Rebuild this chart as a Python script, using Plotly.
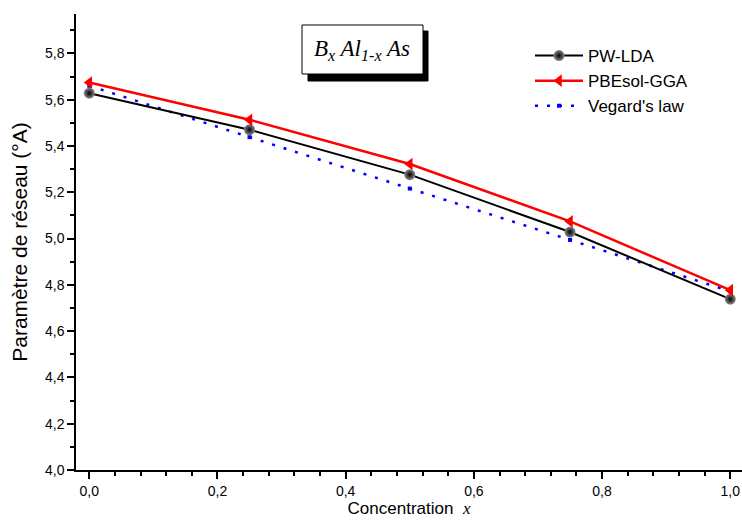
import plotly.graph_objects as go

# ---- data ----
conc = [0.0, 0.25, 0.5, 0.75, 1.0]
pw_lda = [5.628, 5.470, 5.276, 5.028, 4.738]
pbesol_gga = [5.674, 5.513, 5.322, 5.074, 4.777]
vegard = [5.660, 5.438, 5.216, 4.994, 4.772]

x_ticks = [0.0, 0.2, 0.4, 0.6, 0.8, 1.0]
y_ticks = [4.0, 4.2, 4.4, 4.6, 4.8, 5.0, 5.2, 5.4, 5.6, 5.8]

W, H = 742, 522
ML, MR, MT, MB = 76, 0, 14, 52
XR = [-0.0207, 1.0183]
YR = [4.0, 5.970]

FONT = "Arial, Liberation Sans, sans-serif"

fig = go.Figure()

fig.add_trace(go.Scatter(
    x=conc, y=vegard, name="Vegard's law", mode="lines+markers",
    line=dict(color="#0000ff", width=2.5, dash="3px,9px"),
    marker=dict(symbol="square", size=4, color="#0000ff"),
))
fig.add_trace(go.Scatter(
    x=conc, y=pw_lda, name="PW-LDA", mode="lines+markers",
    line=dict(color="black", width=2),
    marker=dict(symbol="circle", size=11, color="#8a8a8a",
                gradient=dict(type="radial", color="black"),
                line=dict(width=0)),
))
fig.add_trace(go.Scatter(
    x=conc, y=pbesol_gga, name="PBEsol-GGA", mode="lines+markers",
    line=dict(color="#ff0000", width=2.5),
    marker=dict(symbol="triangle-left", size=11, color="#ff0000", line=dict(width=0)),
))

def px2paper_x(px):
    return (px - ML) / (W - ML - MR)

def px2paper_y(py):
    return (H - MB - py) / (H - MT - MB)

# title box with shadow
fig.add_shape(type="rect", xref="paper", yref="paper",
              x0=px2paper_x(308), x1=px2paper_x(428), y0=px2paper_y(81), y1=px2paper_y(31),
              fillcolor="#000000", opacity=1, line=dict(color="#000000", width=1), layer="above")
fig.add_shape(type="rect", xref="paper", yref="paper",
              x0=px2paper_x(302), x1=px2paper_x(423), y0=px2paper_y(74), y1=px2paper_y(25),
              fillcolor="#ffffff", opacity=1, line=dict(color="black", width=1), layer="above")
fig.add_annotation(xref="paper", yref="paper", x=px2paper_x(362), y=px2paper_y(50),
                   text="<i>B<sub>x</sub> Al<sub>1-x</sub> As</i>", showarrow=False,
                   font=dict(family="Times New Roman, Liberation Serif, serif", size=23, color="black"),
                   xanchor="center", yanchor="middle")

axis_common = dict(showline=True, linecolor="black", linewidth=1.5, showgrid=False,
                   zeroline=False, tickcolor="black", tickwidth=1.5)

fig.update_layout(
    width=W, height=H,
    margin=dict(l=ML, r=MR, t=MT, b=MB, pad=0),
    paper_bgcolor="white", plot_bgcolor="white",
    separators=",.",
    font=dict(family=FONT, color="black"),
    showlegend=True,
    legend=dict(x=px2paper_x(530), y=px2paper_y(38), xanchor="left", yanchor="top",
                font=dict(family=FONT, size=17, color="black"),
                bgcolor="rgba(0,0,0,0)", borderwidth=0, traceorder="normal",
                itemwidth=48),
    xaxis=dict(range=XR, tickmode="array", tickvals=x_ticks, tickformat=".1f",
               ticks="outside", ticklen=7,
               minor=dict(ticks="outside", dtick=0.04, tick0=0, ticklen=4, tickcolor="black", tickwidth=1.5),
               tickfont=dict(size=14, family=FONT),
               title=dict(text="Concentration  <span style=\"font-family:'Times New Roman', 'Liberation Serif', serif\"><i>x</i></span>",
                          font=dict(size=17, family=FONT), standoff=5),
               **axis_common),
    yaxis=dict(range=YR, tickmode="array", tickvals=y_ticks, tickformat=".1f",
               ticks="outside", ticklen=7,
               minor=dict(ticks="outside", dtick=0.1, tick0=4.0, ticklen=4, tickcolor="black", tickwidth=1.5),
               tickfont=dict(size=14, family=FONT),
               title=dict(text="Paramètre de réseau (°A)", font=dict(size=21, family=FONT), standoff=12),
               **axis_common),
    xaxis2=dict(range=XR, overlaying="x", side="top", anchor="y", tickmode="array", tickvals=x_ticks,
                showticklabels=False, ticks="inside", ticklen=8,
                minor=dict(ticks="inside", dtick=0.04, tick0=0, ticklen=4, tickcolor="black", tickwidth=1.5),
                **axis_common),
    yaxis2=dict(range=YR, overlaying="y", side="right", anchor="x", tickmode="array", tickvals=y_ticks,
                showticklabels=False, ticks="inside", ticklen=8,
                minor=dict(ticks="inside", dtick=0.1, tick0=4.0, ticklen=4, tickcolor="black", tickwidth=1.5),
                **axis_common),
)

# legend order: PW-LDA, PBEsol-GGA, Vegard's law
fig.data[0].legendrank = 3
fig.data[1].legendrank = 1
fig.data[2].legendrank = 2

fig.write_html("out.html")
